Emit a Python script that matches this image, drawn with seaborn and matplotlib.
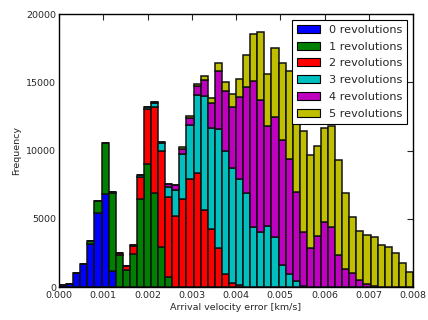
import numpy as np
import pandas as pd
import matplotlib
matplotlib.use("Agg")
import matplotlib.pyplot as plt
from matplotlib.patches import Patch
import seaborn as sns

# histogram bins: 50 bins between 0 and 0.008 km/s
n_bins = 50
bin_range = (0, 0.008)

labels = ["0 revolutions", "1 revolutions", "2 revolutions",
          "3 revolutions", "4 revolutions", "5 revolutions"]
colors = ["#0000ff", "#008000", "#ff0000", "#00bfbf", "#bf00bf", "#bfbf00"]

# counts per bin
rev0 = [150, 220, 1000, 1680, 3150, 5410, 6850, 1150, 0, 0,
        0, 0, 0, 0, 0, 0, 0, 0, 0, 0,
        0, 0, 0, 0, 0, 0, 0, 0, 0, 0,
        0, 0, 0, 0, 0, 0, 0, 0, 0, 0,
        0, 0, 0, 0, 0, 0, 0, 0, 0, 0]
rev1 = [0, 0, 0, 0, 240, 860, 3690, 5750, 2320, 1240,
        2410, 6440, 9020, 6900, 2900, 730, 0, 0, 0, 0,
        0, 0, 0, 0, 0, 0, 0, 0, 0, 0,
        0, 0, 0, 0, 0, 0, 0, 0, 0, 0,
        0, 0, 0, 0, 0, 0, 0, 0, 0, 0]
rev2 = [0, 0, 0, 0, 0, 0, 0, 50, 140, 300,
        590, 1610, 4000, 6270, 7050, 5850, 5170, 6460, 7900, 8370,
        5630, 4240, 2880, 950, 290, 120, 0, 0, 0, 0,
        0, 0, 0, 0, 0, 0, 0, 0, 0, 0,
        0, 0, 0, 0, 0, 0, 0, 0, 0, 0]
rev3 = [0, 0, 0, 0, 0, 0, 0, 0, 0, 0,
        60, 170, 200, 340, 590, 730, 1950, 3290, 3980, 5710,
        8390, 7390, 8680, 9020, 8410, 7800, 6900, 4410, 4020, 4460,
        3630, 1590, 950, 460, 50, 0, 0, 0, 0, 0,
        0, 0, 0, 0, 0, 0, 0, 0, 0, 0]
rev4 = [0, 0, 0, 0, 0, 0, 0, 0, 0, 0,
        0, 0, 0, 60, 100, 220, 370, 390, 490, 630,
        1120, 1850, 4270, 4390, 4510, 6020, 7760, 10680, 9680, 7340,
        8830, 9200, 8440, 6500, 3980, 2830, 3730, 4760, 4390, 2340,
        1340, 1000, 510, 200, 70, 0, 0, 0, 0, 0]
rev5 = [0, 0, 0, 0, 0, 0, 0, 0, 0, 0,
        0, 0, 0, 0, 0, 0, 0, 120, 150, 170,
        290, 340, 590, 660, 900, 1270, 2340, 3460, 4980, 3780,
        5050, 5630, 6460, 6540, 7410, 6830, 6590, 6870, 7410, 6980,
        5540, 4100, 3590, 3600, 3590, 3070, 2950, 2490, 1760, 1120]

series = [rev0, rev1, rev2, rev3, rev4, rev5]
edges = np.linspace(bin_range[0], bin_range[1], n_bins + 1)
centers = (edges[:-1] + edges[1:]) / 2

frames = []
for lab, counts in zip(labels, series):
    frames.append(pd.DataFrame({"error": centers, "count": counts, "revolutions": lab}))
df = pd.concat(frames, ignore_index=True)

sns.set_style("white", {"xtick.direction": "in", "ytick.direction": "in",
                        "axes.edgecolor": "black"})
plt.rcParams["font.family"] = ["DejaVu Sans"]

fig, ax = plt.subplots(figsize=(4.28, 3.2), dpi=100)
fig.subplots_adjust(left=0.138, right=0.965, top=0.956, bottom=0.103)

# seaborn stacks the last hue level at the bottom, so reverse the order
sns.histplot(data=df, x="error", weights="count", hue="revolutions",
             hue_order=labels[::-1], palette=dict(zip(labels, colors)),
             bins=n_bins, binrange=bin_range, multiple="stack", element="bars",
             alpha=1, edgecolor="#111111", linewidth=1.1, legend=False, ax=ax)

ax.set_xlim(0, 0.008)
ax.set_ylim(0, 20000)
xt = np.arange(0, 0.0081, 0.001)
ax.set_xticks(xt)
ax.set_xticklabels([f"{t:.3f}" for t in xt])
ax.set_yticks(range(0, 20001, 5000))
ax.tick_params(axis="both", labelsize=6.8, top=True, right=True,
               direction="in", length=4, width=0.8)
ax.tick_params(axis="x", pad=3)
ax.tick_params(axis="y", pad=2)
ax.set_xlabel("Arrival velocity error [km/s]", fontsize=6.8, labelpad=2)
ax.set_ylabel("Frequency", fontsize=6.8, labelpad=4)
for sp in ax.spines.values():
    sp.set_linewidth(1.0)
    sp.set_color("black")

handles = [Patch(facecolor=c, edgecolor="black", linewidth=0.8) for c in colors]
leg = ax.legend(handles, labels, loc="upper right", fontsize=8.1,
                fancybox=False, frameon=True, edgecolor="black",
                framealpha=1, borderaxespad=0.5, handlelength=2,
                labelspacing=0.6, borderpad=0.45)
leg.get_frame().set_linewidth(0.8)

fig.savefig("out.png", dpi=100)
